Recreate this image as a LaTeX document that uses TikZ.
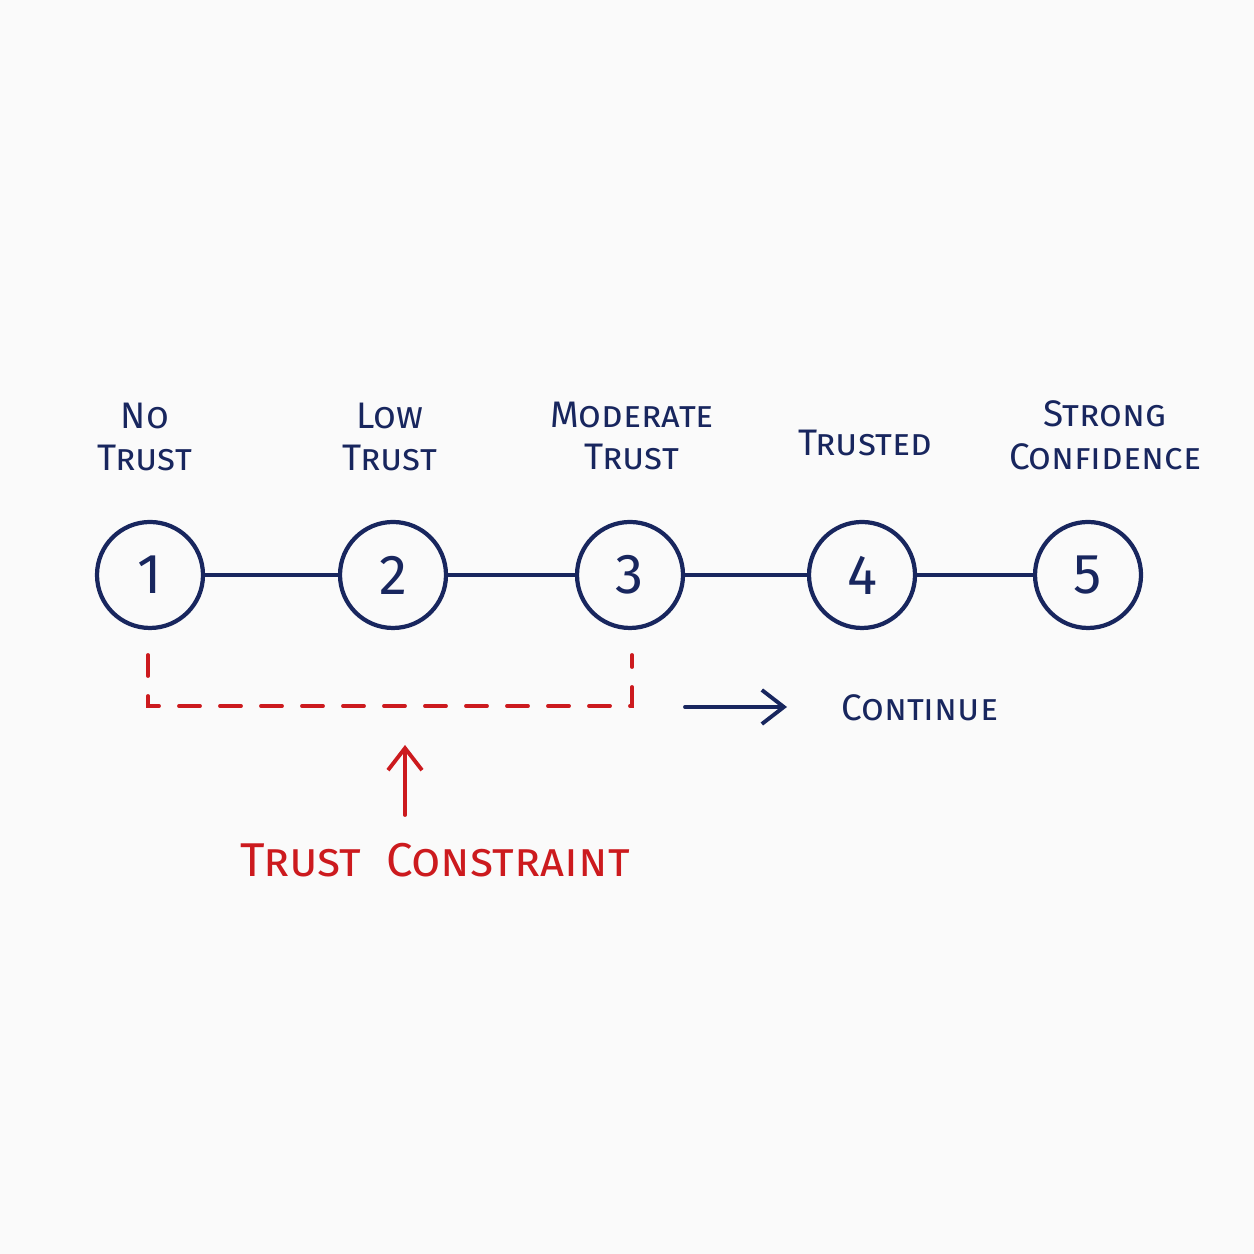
\documentclass[tikz,border=0pt]{standalone}
\usepackage{fontspec}
\setmainfont{Fira Sans}
\usetikzlibrary{arrows.meta}
\definecolor{inkblue}{RGB}{24,38,94}
\definecolor{inkred}{RGB}{204,26,30}
\definecolor{paper}{RGB}{250,250,250}
\begin{document}
\begin{tikzpicture}[
    stage/.style={circle, draw=inkblue, line width=1.2pt, minimum size=1.06cm, inner sep=0pt,
      text=inkblue, font=\fontsize{16}{18}\selectfont},
    stagelabel/.style={text=inkblue, align=center, font=\fontsize{10.5}{12.2}\selectfont\scshape},
    link/.style={draw=inkblue, line width=1.1pt},
    bracket/.style={draw=inkred, line width=1.1pt, line cap=round, dash pattern=on 0.21cm off 0.2cm},
    pointer/.style={line width=1.1pt, line cap=round, -{Straight Barb[length=2.2mm,width=3.4mm]}},
  ]
  \useasboundingbox (0,0) rectangle (12.54,12.54);
  \fill[paper] (0,0) rectangle (12.54,12.54);

  % the five stages
  \node[stage] (s1) at (1.50,6.79) {1};
  \node[stage] (s2) at (3.93,6.79) {2};
  \node[stage] (s3) at (6.30,6.79) {3};
  \node[stage] (s4) at (8.62,6.79) {4};
  \node[stage] (s5) at (10.88,6.79) {5};
  \draw[link] (s1) -- (s2);
  \draw[link] (s2) -- (s3);
  \draw[link] (s3) -- (s4);
  \draw[link] (s4) -- (s5);

  % labels above the stages
  \node[stagelabel] (l1) at (1.45,8.17) {No\\Trust};
  \node[stagelabel] (l2) at (3.90,8.17) {Low\\Trust};
  \node[stagelabel] (l3) at (6.32,8.18) {Moderate\\Trust};
  \node[stagelabel] (l4) at (8.65,8.11) {Trusted};
  \node[stagelabel] (l5) at (11.05,8.19) {Strong\\Confidence};

  % dashed bracket under stages 1 to 3
  \coordinate (b1) at (1.48,5.99);
  \coordinate (b2) at (1.48,5.48);
  \coordinate (b3) at (6.32,5.48);
  \coordinate (b4) at (6.32,5.99);
  \draw[bracket] (b1) -- (b2) -- (b3) -- (b4);

  % constraint note
  \node[text=inkred, font=\fontsize{13.5}{15}\selectfont\scshape] (limit) at (4.35,3.94) {Trust\ \ Constraint};
  \coordinate (upTail) at (4.05,4.39);
  \coordinate (upTip) at (4.05,5.09);
  \draw[pointer, draw=inkred] (upTail) -- (upTip);

  % continue note
  \node[text=inkblue, font=\fontsize{10.5}{12}\selectfont\scshape] (next) at (9.20,5.46) {Continue};
  \coordinate (goTail) at (6.85,5.47);
  \coordinate (goTip) at (7.87,5.47);
  \draw[pointer, draw=inkblue] (goTail) -- (goTip);
\end{tikzpicture}
\end{document}
